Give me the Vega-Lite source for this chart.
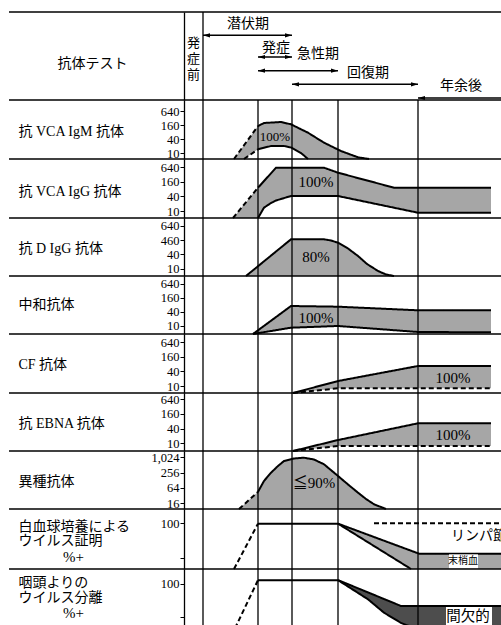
{
"$schema":"https://vega.github.io/schema/vega-lite/v6.json",
"background":"white",
"padding":{"left":8,"top":11,"right":0,"bottom":0},
"spacing":0,
"bounds":"flush",
"config":{
 "view":{"stroke":null},
 "axisY":{"domainColor":"black","domainWidth":1.3,"tickColor":"black","tickSize":4,"tickWidth":1,"labelColor":"black","labelFont":"Liberation Serif","labelFontSize":12.5,"labelPadding":1,"labelOverlap":false,"labelFlush":false,"titleColor":"black","titleFont":"Liberation Serif, Noto Sans CJK JP","titleFontSize":14,"titleFontWeight":"normal","titleAngle":0,"titleAlign":"left","titleBaseline":"middle","titleX":-166,"grid":false},
 "text":{"color":"black","font":"Liberation Serif, Noto Sans CJK JP","fontWeight":"normal"},
 "rule":{"color":"black"},
 "line":{"color":"black"},
 "point":{"color":"black"}
},
"datasets":{
 "vlines":[{"event":"感染","t":19},{"event":"発症","t":74},{"event":"急性期中","t":108},{"event":"回復期","t":154},{"event":"年余後","t":234}],
 "phases":[
  {"phase":"潜伏期","lane":0,"start":19,"end":108},
  {"phase":"発症","lane":1,"start":74,"end":108},
  {"phase":"急性期","lane":2,"start":74,"end":154},
  {"phase":"回復期","lane":3,"start":108,"end":234},
  {"phase":"年余後","lane":4,"start":234,"end":318}
 ],
 "areas":[
  {"panel":"p1","t":50,"lo":5.71,"hi":5.71},{"panel":"p1","t":60,"lo":5.71,"hi":22.1},{"panel":"p1","t":74,"lo":14.8,"hi":146},{"panel":"p1","t":80,"lo":17.2,"hi":197},{"panel":"p1","t":87,"lo":20.5,"hi":205},{"panel":"p1","t":97,"lo":20.5,"hi":217},{"panel":"p1","t":100,"lo":20.5,"hi":202},{"panel":"p1","t":107,"lo":17.7,"hi":173},{"panel":"p1","t":117,"lo":10.3,"hi":106},{"panel":"p1","t":124,"lo":5.71,"hi":75.8},{"panel":"p1","t":140,"lo":5.71,"hi":28.4},{"panel":"p1","t":157,"lo":5.71,"hi":12.5},{"panel":"p1","t":174,"lo":5.71,"hi":6.75},{"panel":"p1","t":185,"lo":5.71,"hi":5.71},
  {"panel":"p2","t":49,"lo":5.16,"hi":5.16},{"panel":"p2","t":74,"lo":5.16,"hi":90.6},{"panel":"p2","t":80,"lo":13.7,"hi":170.6},{"panel":"p2","t":87,"lo":21.3,"hi":353},{"panel":"p2","t":92,"lo":27,"hi":600},{"panel":"p2","t":107,"lo":41.3,"hi":600},{"panel":"p2","t":140,"lo":41.3,"hi":600},{"panel":"p2","t":154,"lo":41.3,"hi":374},{"panel":"p2","t":210,"lo":13.5,"hi":90.6},{"panel":"p2","t":234,"lo":8.5,"hi":90.6},{"panel":"p2","t":307,"lo":8.5,"hi":90.6},
  {"panel":"p3","t":62,"lo":4.91,"hi":4.91},{"panel":"p3","t":107,"lo":4.91,"hi":175},{"panel":"p3","t":140,"lo":4.91,"hi":175},{"panel":"p3","t":147,"lo":4.91,"hi":156},{"panel":"p3","t":154,"lo":4.91,"hi":125.7},{"panel":"p3","t":164,"lo":4.91,"hi":71.4},{"panel":"p3","t":174,"lo":4.91,"hi":34.4},{"panel":"p3","t":183,"lo":4.91,"hi":15.8},{"panel":"p3","t":194,"lo":4.91,"hi":8},{"panel":"p3","t":202,"lo":4.91,"hi":5.69},{"panel":"p3","t":210,"lo":4.91,"hi":4.91},
  {"panel":"p4","t":69,"lo":4.55,"hi":4.55},{"panel":"p4","t":107,"lo":8.46,"hi":71.4},{"panel":"p4","t":154,"lo":10,"hi":66.7},{"panel":"p4","t":234,"lo":5.54,"hi":46.8},{"panel":"p4","t":307,"lo":5.38,"hi":46.8},
  {"panel":"p5","t":109,"lo":5.16,"hi":5.16},{"panel":"p5","t":154,"lo":8.04,"hi":16},{"panel":"p5","t":234,"lo":8.04,"hi":66.3},{"panel":"p5","t":307,"lo":8.04,"hi":66.3},
  {"panel":"p6","t":109,"lo":4.85,"hi":4.85},{"panel":"p6","t":154,"lo":7.76,"hi":13.6},{"panel":"p6","t":234,"lo":7.76,"hi":65.4},{"panel":"p6","t":307,"lo":7.76,"hi":65.4},
  {"panel":"p7","t":55,"lo":9.5,"hi":9.5},{"panel":"p7","t":74,"lo":9.5,"hi":45},{"panel":"p7","t":80,"lo":9.5,"hi":120.7},{"panel":"p7","t":87,"lo":9.5,"hi":256},{"panel":"p7","t":94,"lo":9.5,"hi":470},{"panel":"p7","t":100,"lo":9.5,"hi":739},{"panel":"p7","t":110,"lo":9.5,"hi":927},{"panel":"p7","t":120,"lo":9.5,"hi":996},{"panel":"p7","t":130,"lo":9.5,"hi":846},{"panel":"p7","t":140,"lo":9.5,"hi":548},{"panel":"p7","t":154,"lo":9.5,"hi":190},{"panel":"p7","t":164,"lo":9.5,"hi":88},{"panel":"p7","t":174,"lo":9.5,"hi":41.8},{"panel":"p7","t":182,"lo":9.5,"hi":23.6},{"panel":"p7","t":190,"lo":9.5,"hi":14.6},{"panel":"p7","t":202,"lo":9.5,"hi":9.5},
  {"panel":"p8","t":154,"lo":99,"hi":99},{"panel":"p8","t":227,"lo":0,"hi":40.2},{"panel":"p8","t":235,"lo":0,"hi":33.5},{"panel":"p8","t":318,"lo":0,"hi":33.5},
  {"panel":"p9","t":154,"lo":108,"hi":108},{"panel":"p9","t":177,"lo":75,"hi":87},{"panel":"p9","t":184,"lo":65,"hi":80.5},{"panel":"p9","t":200,"lo":35,"hi":65.7},{"panel":"p9","t":217,"lo":12,"hi":50},{"panel":"p9","t":227,"lo":3,"hi":50},{"panel":"p9","t":231,"lo":0,"hi":50},{"panel":"p9","t":318,"lo":0,"hi":50}
 ],
 "edges":[
  {"panel":"p1","seg":"ud","dash":"dashed","t":50,"v":5.71},{"panel":"p1","seg":"ud","dash":"dashed","t":74,"v":146},
  {"panel":"p1","seg":"u","dash":"solid","t":74,"v":146},{"panel":"p1","seg":"u","dash":"solid","t":80,"v":197},{"panel":"p1","seg":"u","dash":"solid","t":87,"v":205},{"panel":"p1","seg":"u","dash":"solid","t":97,"v":217},{"panel":"p1","seg":"u","dash":"solid","t":100,"v":202},{"panel":"p1","seg":"u","dash":"solid","t":107,"v":173},{"panel":"p1","seg":"u","dash":"solid","t":117,"v":106},{"panel":"p1","seg":"u","dash":"solid","t":124,"v":75.8},{"panel":"p1","seg":"u","dash":"solid","t":140,"v":28.4},{"panel":"p1","seg":"u","dash":"solid","t":157,"v":12.5},{"panel":"p1","seg":"u","dash":"solid","t":174,"v":6.75},{"panel":"p1","seg":"u","dash":"solid","t":185,"v":5.71},
  {"panel":"p1","seg":"ld","dash":"dashed","t":60,"v":5.71},{"panel":"p1","seg":"ld","dash":"dashed","t":74,"v":14.8},
  {"panel":"p1","seg":"l","dash":"solid","t":74,"v":14.8},{"panel":"p1","seg":"l","dash":"solid","t":80,"v":17.2},{"panel":"p1","seg":"l","dash":"solid","t":87,"v":20.5},{"panel":"p1","seg":"l","dash":"solid","t":100,"v":20.5},{"panel":"p1","seg":"l","dash":"solid","t":107,"v":17.7},{"panel":"p1","seg":"l","dash":"solid","t":117,"v":10.3},{"panel":"p1","seg":"l","dash":"solid","t":124,"v":5.71},
  {"panel":"p2","seg":"ud","dash":"dashed","t":49,"v":5.16},{"panel":"p2","seg":"ud","dash":"dashed","t":74,"v":90.6},
  {"panel":"p2","seg":"u","dash":"solid","t":74,"v":90.6},{"panel":"p2","seg":"u","dash":"solid","t":92,"v":600},{"panel":"p2","seg":"u","dash":"solid","t":140,"v":600},{"panel":"p2","seg":"u","dash":"solid","t":154,"v":374},{"panel":"p2","seg":"u","dash":"solid","t":210,"v":90.6},{"panel":"p2","seg":"u","dash":"solid","t":307,"v":90.6},
  {"panel":"p2","seg":"l","dash":"solid","t":74,"v":5.16},{"panel":"p2","seg":"l","dash":"solid","t":80,"v":13.7},{"panel":"p2","seg":"l","dash":"solid","t":87,"v":21.3},{"panel":"p2","seg":"l","dash":"solid","t":92,"v":27},{"panel":"p2","seg":"l","dash":"solid","t":107,"v":41.3},{"panel":"p2","seg":"l","dash":"solid","t":154,"v":41.3},{"panel":"p2","seg":"l","dash":"solid","t":234,"v":8.5},{"panel":"p2","seg":"l","dash":"solid","t":307,"v":8.5},
  {"panel":"p3","seg":"u","dash":"solid","t":62,"v":4.91},{"panel":"p3","seg":"u","dash":"solid","t":107,"v":175},{"panel":"p3","seg":"u","dash":"solid","t":140,"v":175},{"panel":"p3","seg":"u","dash":"solid","t":147,"v":156},{"panel":"p3","seg":"u","dash":"solid","t":154,"v":125.7},{"panel":"p3","seg":"u","dash":"solid","t":164,"v":71.4},{"panel":"p3","seg":"u","dash":"solid","t":174,"v":34.4},{"panel":"p3","seg":"u","dash":"solid","t":183,"v":15.8},{"panel":"p3","seg":"u","dash":"solid","t":194,"v":8},{"panel":"p3","seg":"u","dash":"solid","t":202,"v":5.69},{"panel":"p3","seg":"u","dash":"solid","t":210,"v":4.91},
  {"panel":"p4","seg":"u","dash":"solid","t":69,"v":4.55},{"panel":"p4","seg":"u","dash":"solid","t":107,"v":71.4},{"panel":"p4","seg":"u","dash":"solid","t":154,"v":66.7},{"panel":"p4","seg":"u","dash":"solid","t":234,"v":46.8},{"panel":"p4","seg":"u","dash":"solid","t":307,"v":46.8},
  {"panel":"p4","seg":"l","dash":"solid","t":69,"v":4.55},{"panel":"p4","seg":"l","dash":"solid","t":107,"v":8.46},{"panel":"p4","seg":"l","dash":"solid","t":154,"v":10},{"panel":"p4","seg":"l","dash":"solid","t":234,"v":5.54},{"panel":"p4","seg":"l","dash":"solid","t":307,"v":5.38},
  {"panel":"p5","seg":"u","dash":"solid","t":109,"v":5.16},{"panel":"p5","seg":"u","dash":"solid","t":154,"v":16},{"panel":"p5","seg":"u","dash":"solid","t":234,"v":66.3},{"panel":"p5","seg":"u","dash":"solid","t":307,"v":66.3},
  {"panel":"p5","seg":"l","dash":"dashed","t":109,"v":5.16},{"panel":"p5","seg":"l","dash":"dashed","t":154,"v":8.04},{"panel":"p5","seg":"l","dash":"dashed","t":307,"v":8.04},
  {"panel":"p6","seg":"u","dash":"solid","t":109,"v":4.85},{"panel":"p6","seg":"u","dash":"solid","t":154,"v":13.6},{"panel":"p6","seg":"u","dash":"solid","t":234,"v":65.4},{"panel":"p6","seg":"u","dash":"solid","t":307,"v":65.4},
  {"panel":"p6","seg":"l","dash":"dashed","t":109,"v":4.85},{"panel":"p6","seg":"l","dash":"dashed","t":154,"v":7.76},{"panel":"p6","seg":"l","dash":"dashed","t":307,"v":7.76},
  {"panel":"p7","seg":"ud","dash":"dashed","t":55,"v":9.5},{"panel":"p7","seg":"ud","dash":"dashed","t":74,"v":45},
  {"panel":"p7","seg":"u","dash":"solid","t":74,"v":45},{"panel":"p7","seg":"u","dash":"solid","t":80,"v":120.7},{"panel":"p7","seg":"u","dash":"solid","t":87,"v":256},{"panel":"p7","seg":"u","dash":"solid","t":94,"v":470},{"panel":"p7","seg":"u","dash":"solid","t":100,"v":739},{"panel":"p7","seg":"u","dash":"solid","t":110,"v":927},{"panel":"p7","seg":"u","dash":"solid","t":120,"v":996},{"panel":"p7","seg":"u","dash":"solid","t":130,"v":846},{"panel":"p7","seg":"u","dash":"solid","t":140,"v":548},{"panel":"p7","seg":"u","dash":"solid","t":154,"v":190},{"panel":"p7","seg":"u","dash":"solid","t":164,"v":88},{"panel":"p7","seg":"u","dash":"solid","t":174,"v":41.8},{"panel":"p7","seg":"u","dash":"solid","t":182,"v":23.6},{"panel":"p7","seg":"u","dash":"solid","t":190,"v":14.6},{"panel":"p7","seg":"u","dash":"solid","t":202,"v":9.5},
  {"panel":"p8","seg":"rise","dash":"dashed","t":50,"v":0},{"panel":"p8","seg":"rise","dash":"dashed","t":74,"v":99},
  {"panel":"p8","seg":"top","dash":"solid","t":74,"v":99},{"panel":"p8","seg":"top","dash":"solid","t":154,"v":99},{"panel":"p8","seg":"top","dash":"solid","t":235,"v":33.5},{"panel":"p8","seg":"top","dash":"solid","t":318,"v":33.5},
  {"panel":"p8","seg":"low","dash":"solid","t":154,"v":99},{"panel":"p8","seg":"low","dash":"solid","t":227,"v":0},
  {"panel":"p8","seg":"lymph","dash":"dashed","t":190,"v":100},{"panel":"p8","seg":"lymph","dash":"dashed","t":318,"v":100},
  {"panel":"p9","seg":"rise","dash":"dashed","t":51,"v":0},{"panel":"p9","seg":"rise","dash":"dashed","t":74,"v":108},
  {"panel":"p9","seg":"top","dash":"solid","t":74,"v":108},{"panel":"p9","seg":"top","dash":"solid","t":154,"v":108},{"panel":"p9","seg":"top","dash":"solid","t":177,"v":87},{"panel":"p9","seg":"top","dash":"solid","t":217,"v":50},{"panel":"p9","seg":"top","dash":"solid","t":318,"v":50},
  {"panel":"p9","seg":"low","dash":"solid","t":154,"v":108},{"panel":"p9","seg":"low","dash":"solid","t":184,"v":65},{"panel":"p9","seg":"low","dash":"solid","t":200,"v":35},{"panel":"p9","seg":"low","dash":"solid","t":217,"v":12},{"panel":"p9","seg":"low","dash":"solid","t":227,"v":3},{"panel":"p9","seg":"low","dash":"solid","t":231,"v":0}
 ]
},
"vconcat":[
 {"width":318,"height":88,"data":{"values":[{}]},
  "layer":[
   {"data":{"name":"vlines"},"transform":[{"filter":"datum.t == 19"}],"mark":{"type":"rule","strokeWidth":1.3},"encoding":{"x":{"field":"t","type":"quantitative","scale":{"domain":[0,318],"nice":false,"zero":false},"axis":null}}},
   {"data":{"name":"phases"},"transform":[{"filter":"datum.lane > 0"}],"mark":{"type":"rule","strokeWidth":1.5},"encoding":{"x":{"field":"start","type":"quantitative"},"x2":{"field":"end"},"y":{"field":"lane","type":"quantitative","scale":{"domain":[-2.292,4.146],"reverse":true,"nice":false,"zero":false},"axis":{"title":"抗体テスト","titleX":-92,"titleY":51,"titleAlign":"center","ticks":false,"labels":false}}}},
   {"data":{"name":"phases"},"transform":[{"filter":"datum.lane == 0"}],"mark":{"type":"rule","strokeWidth":1.5,"yOffset":-8},"encoding":{"x":{"field":"start","type":"quantitative"},"x2":{"field":"end"},"y":{"field":"lane","type":"quantitative"}}},
   {"data":{"name":"phases"},"transform":[{"filter":"datum.lane > 0"}],"mark":{"type":"point","shape":"M -1 0 L 1 -0.6 L 1 0.6 Z","filled":true,"size":49,"opacity":1,"xOffset":3.5},"encoding":{"x":{"field":"start","type":"quantitative"},"y":{"field":"lane","type":"quantitative"}}},
   {"data":{"name":"phases"},"transform":[{"filter":"datum.lane > 0 && datum.end < 318"}],"mark":{"type":"point","shape":"M 1 0 L -1 -0.6 L -1 0.6 Z","filled":true,"size":49,"opacity":1,"xOffset":-3.5},"encoding":{"x":{"field":"end","type":"quantitative"},"y":{"field":"lane","type":"quantitative"}}},
   {"data":{"name":"phases"},"transform":[{"filter":"datum.lane == 0"}],"mark":{"type":"point","shape":"M -1 0 L 1 -0.6 L 1 0.6 Z","filled":true,"size":49,"opacity":1,"xOffset":3.5,"yOffset":-8},"encoding":{"x":{"field":"start","type":"quantitative"},"y":{"field":"lane","type":"quantitative"}}},
   {"data":{"name":"phases"},"transform":[{"filter":"datum.lane == 0"}],"mark":{"type":"point","shape":"M 1 0 L -1 -0.6 L -1 0.6 Z","filled":true,"size":49,"opacity":1,"xOffset":-3.5,"yOffset":-8},"encoding":{"x":{"field":"end","type":"quantitative"},"y":{"field":"lane","type":"quantitative"}}},
   {"mark":{"type":"rule","strokeWidth":1.5},"encoding":{"x":{"datum":-175},"x2":{"datum":318},"y":{"datum":-2.292}}},
   {"mark":{"type":"text","text":"潜伏期","fontSize":14},"encoding":{"x":{"datum":64},"y":{"datum":-1.414}}},
   {"mark":{"type":"text","text":"発症","fontSize":14},"encoding":{"x":{"datum":92},"y":{"datum":0.342}}},
   {"mark":{"type":"text","text":"急性期","fontSize":14},"encoding":{"x":{"datum":134},"y":{"datum":0.78}}},
   {"mark":{"type":"text","text":"回復期","fontSize":14},"encoding":{"x":{"datum":184},"y":{"datum":2.17}}},
   {"mark":{"type":"text","text":"年余後","fontSize":14},"encoding":{"x":{"datum":277},"y":{"datum":3.121}}},
   {"mark":{"type":"text","text":["発","症","前"],"fontSize":13,"lineHeight":16,"baseline":"top"},"encoding":{"x":{"datum":9.5},"y":{"datum":-0.427}}}
  ]},
 {"width":318,"height":59,"data":{"values":[{}]},
  "layer":[
   {"data":{"name":"areas"},"transform":[{"filter":"datum.panel == 'p1'"}],"mark":{"type":"area","fill":"#a6a6a6"},"encoding":{"x":{"field":"t","type":"quantitative","scale":{"domain":[0,318],"nice":false,"zero":false},"axis":null},"y":{"field":"lo","type":"quantitative","scale":{"type":"log","base":2,"domain":[5.71,1888],"nice":false},"axis":{"values":[10,40,160,640],"format":",d","title":"抗 VCA IgM 抗体","titleY":31}},"y2":{"field":"hi"}}},
   {"data":{"name":"vlines"},"mark":{"type":"rule","strokeWidth":1.3},"encoding":{"x":{"field":"t","type":"quantitative"}}},
   {"mark":{"type":"rule","strokeWidth":1.5},"encoding":{"x":{"datum":-175},"x2":{"datum":318},"y":{"datum":1888}}},
   {"data":{"name":"edges"},"transform":[{"filter":"datum.panel == 'p1'"}],"mark":{"type":"line","strokeWidth":2},"encoding":{"x":{"field":"t","type":"quantitative"},"y":{"field":"v","type":"quantitative"},"detail":{"field":"seg"},"strokeDash":{"field":"dash","type":"nominal","scale":{"domain":["solid","dashed"],"range":[[1,0],[5,3]]},"legend":null}}},
   {"mark":{"type":"text","text":"100%","fontSize":13},"encoding":{"x":{"datum":91},"y":{"datum":49.7}}}
  ]},
 {"width":318,"height":59,"data":{"values":[{}]},
  "layer":[
   {"data":{"name":"areas"},"transform":[{"filter":"datum.panel == 'p2'"}],"mark":{"type":"area","fill":"#a6a6a6"},"encoding":{"x":{"field":"t","type":"quantitative","scale":{"domain":[0,318],"nice":false,"zero":false},"axis":null},"y":{"field":"lo","type":"quantitative","scale":{"type":"log","base":2,"domain":[5.16,1366],"nice":false},"axis":{"values":[10,40,160,640],"format":",d","title":"抗 VCA IgG 抗体","titleY":32}},"y2":{"field":"hi"}}},
   {"data":{"name":"vlines"},"mark":{"type":"rule","strokeWidth":1.3},"encoding":{"x":{"field":"t","type":"quantitative"}}},
   {"mark":{"type":"rule","strokeWidth":1.5},"encoding":{"x":{"datum":-175},"x2":{"datum":318},"y":{"datum":1366}}},
   {"data":{"name":"edges"},"transform":[{"filter":"datum.panel == 'p2'"}],"mark":{"type":"line","strokeWidth":2},"encoding":{"x":{"field":"t","type":"quantitative"},"y":{"field":"v","type":"quantitative"},"detail":{"field":"seg"},"strokeDash":{"field":"dash","type":"nominal","scale":{"domain":["solid","dashed"],"range":[[1,0],[5,3]]},"legend":null}}},
   {"mark":{"type":"text","text":"100%","fontSize":15},"encoding":{"x":{"datum":132},"y":{"datum":155}}}
  ]},
 {"width":318,"height":58,"data":{"values":[{}]},
  "layer":[
   {"data":{"name":"areas"},"transform":[{"filter":"datum.panel == 'p3'"}],"mark":{"type":"area","fill":"#a6a6a6"},"encoding":{"x":{"field":"t","type":"quantitative","scale":{"domain":[0,318],"nice":false,"zero":false},"axis":null},"y":{"field":"lo","type":"quantitative","scale":{"type":"log","base":2,"domain":[4.91,1391],"nice":false},"axis":{"values":[10,40,160,640],"format":",d","labelExpr":"datum.value == 160 ? '460' : datum.label","title":"抗 D IgG 抗体","titleY":30}},"y2":{"field":"hi"}}},
   {"data":{"name":"vlines"},"mark":{"type":"rule","strokeWidth":1.3},"encoding":{"x":{"field":"t","type":"quantitative"}}},
   {"mark":{"type":"rule","strokeWidth":1.5},"encoding":{"x":{"datum":-175},"x2":{"datum":318},"y":{"datum":1391}}},
   {"data":{"name":"edges"},"transform":[{"filter":"datum.panel == 'p3'"}],"mark":{"type":"line","strokeWidth":2},"encoding":{"x":{"field":"t","type":"quantitative"},"y":{"field":"v","type":"quantitative"},"detail":{"field":"seg"},"strokeDash":{"field":"dash","type":"nominal","scale":{"domain":["solid","dashed"],"range":[[1,0],[5,3]]},"legend":null}}},
   {"mark":{"type":"text","text":"80%","fontSize":15},"encoding":{"x":{"datum":132},"y":{"datum":31.2}}}
  ]},
 {"width":318,"height":58,"data":{"values":[{}]},
  "layer":[
   {"data":{"name":"areas"},"transform":[{"filter":"datum.panel == 'p4'"}],"mark":{"type":"area","fill":"#a6a6a6"},"encoding":{"x":{"field":"t","type":"quantitative","scale":{"domain":[0,318],"nice":false,"zero":false},"axis":null},"y":{"field":"lo","type":"quantitative","scale":{"type":"log","base":2,"domain":[4.55,1364],"nice":false},"axis":{"values":[10,40,160,640],"format":",d","title":"中和抗体","titleY":28}},"y2":{"field":"hi"}}},
   {"data":{"name":"vlines"},"mark":{"type":"rule","strokeWidth":1.3},"encoding":{"x":{"field":"t","type":"quantitative"}}},
   {"mark":{"type":"rule","strokeWidth":1.5},"encoding":{"x":{"datum":-175},"x2":{"datum":318},"y":{"datum":1364}}},
   {"data":{"name":"edges"},"transform":[{"filter":"datum.panel == 'p4'"}],"mark":{"type":"line","strokeWidth":2},"encoding":{"x":{"field":"t","type":"quantitative"},"y":{"field":"v","type":"quantitative"},"detail":{"field":"seg"},"strokeDash":{"field":"dash","type":"nominal","scale":{"domain":["solid","dashed"],"range":[[1,0],[5,3]]},"legend":null}}},
   {"mark":{"type":"text","text":"100%","fontSize":15},"encoding":{"x":{"datum":132},"y":{"datum":22}}}
  ]},
 {"width":318,"height":59,"data":{"values":[{}]},
  "layer":[
   {"data":{"name":"areas"},"transform":[{"filter":"datum.panel == 'p5'"}],"mark":{"type":"area","fill":"#a6a6a6"},"encoding":{"x":{"field":"t","type":"quantitative","scale":{"domain":[0,318],"nice":false,"zero":false},"axis":null},"y":{"field":"lo","type":"quantitative","scale":{"type":"log","base":2,"domain":[5.16,1366],"nice":false},"axis":{"values":[10,40,160,640],"format":",d","title":"CF 抗体","titleY":30}},"y2":{"field":"hi"}}},
   {"data":{"name":"vlines"},"mark":{"type":"rule","strokeWidth":1.3},"encoding":{"x":{"field":"t","type":"quantitative"}}},
   {"mark":{"type":"rule","strokeWidth":1.5},"encoding":{"x":{"datum":-175},"x2":{"datum":318},"y":{"datum":1366}}},
   {"data":{"name":"edges"},"transform":[{"filter":"datum.panel == 'p5'"}],"mark":{"type":"line","strokeWidth":2},"encoding":{"x":{"field":"t","type":"quantitative"},"y":{"field":"v","type":"quantitative"},"detail":{"field":"seg"},"strokeDash":{"field":"dash","type":"nominal","scale":{"domain":["solid","dashed"],"range":[[1,0],[5,3]]},"legend":null}}},
   {"mark":{"type":"text","text":"100%","fontSize":15},"encoding":{"x":{"datum":269},"y":{"datum":21.3}}}
  ]},
 {"width":318,"height":58,"data":{"values":[{}]},
  "layer":[
   {"data":{"name":"areas"},"transform":[{"filter":"datum.panel == 'p6'"}],"mark":{"type":"area","fill":"#a6a6a6"},"encoding":{"x":{"field":"t","type":"quantitative","scale":{"domain":[0,318],"nice":false,"zero":false},"axis":null},"y":{"field":"lo","type":"quantitative","scale":{"type":"log","base":2,"domain":[4.85,1127],"nice":false},"axis":{"values":[10,40,160,640],"format":",d","title":"抗 EBNA 抗体","titleY":30}},"y2":{"field":"hi"}}},
   {"data":{"name":"vlines"},"mark":{"type":"rule","strokeWidth":1.3},"encoding":{"x":{"field":"t","type":"quantitative"}}},
   {"mark":{"type":"rule","strokeWidth":1.5},"encoding":{"x":{"datum":-175},"x2":{"datum":318},"y":{"datum":1127}}},
   {"data":{"name":"edges"},"transform":[{"filter":"datum.panel == 'p6'"}],"mark":{"type":"line","strokeWidth":2},"encoding":{"x":{"field":"t","type":"quantitative"},"y":{"field":"v","type":"quantitative"},"detail":{"field":"seg"},"strokeDash":{"field":"dash","type":"nominal","scale":{"domain":["solid","dashed"],"range":[[1,0],[5,3]]},"legend":null}}},
   {"mark":{"type":"text","text":"100%","fontSize":15},"encoding":{"x":{"datum":269},"y":{"datum":21.8}}}
  ]},
 {"width":318,"height":58,"data":{"values":[{}]},
  "layer":[
   {"data":{"name":"areas"},"transform":[{"filter":"datum.panel == 'p7'"}],"mark":{"type":"area","fill":"#a6a6a6"},"encoding":{"x":{"field":"t","type":"quantitative","scale":{"domain":[0,318],"nice":false,"zero":false},"axis":null},"y":{"field":"lo","type":"quantitative","scale":{"type":"log","base":2,"domain":[9.5,1829],"nice":false},"axis":{"values":[16,64,256,1024],"format":",d","title":"異種抗体","titleY":30}},"y2":{"field":"hi"}}},
   {"data":{"name":"vlines"},"mark":{"type":"rule","strokeWidth":1.3},"encoding":{"x":{"field":"t","type":"quantitative"}}},
   {"mark":{"type":"rule","strokeWidth":1.5},"encoding":{"x":{"datum":-175},"x2":{"datum":318},"y":{"datum":1829}}},
   {"data":{"name":"edges"},"transform":[{"filter":"datum.panel == 'p7'"}],"mark":{"type":"line","strokeWidth":2},"encoding":{"x":{"field":"t","type":"quantitative"},"y":{"field":"v","type":"quantitative"},"detail":{"field":"seg"},"strokeDash":{"field":"dash","type":"nominal","scale":{"domain":["solid","dashed"],"range":[[1,0],[5,3]]},"legend":null}}},
   {"mark":{"type":"text","text":"≦90%","fontSize":15},"encoding":{"x":{"datum":130},"y":{"datum":100.7}}}
  ]},
 {"width":318,"height":60,"data":{"values":[{}]},
  "layer":[
   {"data":{"name":"areas"},"transform":[{"filter":"datum.panel == 'p8'"}],"mark":{"type":"area","fill":"#a6a6a6"},"encoding":{"x":{"field":"t","type":"quantitative","scale":{"domain":[0,318],"nice":false,"zero":false},"axis":null},"y":{"field":"lo","type":"quantitative","scale":{"domain":[0,131],"nice":false,"zero":false},"axis":{"values":[25,50,75,100],"labelExpr":"datum.value % 50 === 0 ? datum.label : ''","title":["白血球培養による","ウイルス証明"],"titleBaseline":"top","titleLineHeight":14.5,"titleY":10}},"y2":{"field":"hi"}}},
   {"data":{"name":"vlines"},"mark":{"type":"rule","strokeWidth":1.3},"encoding":{"x":{"field":"t","type":"quantitative"}}},
   {"mark":{"type":"rule","strokeWidth":1.5},"encoding":{"x":{"datum":-175},"x2":{"datum":318},"y":{"datum":131}}},
   {"data":{"name":"edges"},"transform":[{"filter":"datum.panel == 'p8'"}],"mark":{"type":"line","strokeWidth":2},"encoding":{"x":{"field":"t","type":"quantitative"},"y":{"field":"v","type":"quantitative"},"detail":{"field":"seg"},"strokeDash":{"field":"dash","type":"nominal","scale":{"domain":["solid","dashed"],"range":[[1,0],[5,3]]},"legend":null}}},
   {"mark":{"type":"rect","fill":"white"},"encoding":{"x":{"datum":265},"x2":{"datum":294},"y":{"datum":1},"y2":{"datum":32}}},
   {"mark":{"type":"text","text":"末梢血","fontSize":10},"encoding":{"x":{"datum":279},"y":{"datum":16.7}}},
   {"mark":{"type":"text","text":"リンパ節","fontSize":14,"align":"left"},"encoding":{"x":{"datum":267},"y":{"datum":73}}},
   {"mark":{"type":"text","text":"%+","fontSize":15,"align":"left"},"encoding":{"x":{"datum":-121},"y":{"datum":27}}}
  ]},
 {"width":318,"height":60,"data":{"values":[{}]},
  "layer":[
   {"data":{"name":"areas"},"transform":[{"filter":"datum.panel == 'p9'"}],"mark":{"type":"area","fill":"#4d4d4d"},"encoding":{"x":{"field":"t","type":"quantitative","scale":{"domain":[0,318],"nice":false,"zero":false},"axis":null},"y":{"field":"lo","type":"quantitative","scale":{"domain":[-1.6,133],"nice":false,"zero":false},"axis":{"values":[25,50,75,100],"labelExpr":"datum.value % 50 === 0 ? datum.label : ''","title":["咽頭よりの","ウイルス分離"],"titleBaseline":"top","titleLineHeight":14.5,"titleY":6.5}},"y2":{"field":"hi"}}},
   {"data":{"name":"vlines"},"mark":{"type":"rule","strokeWidth":1.3},"encoding":{"x":{"field":"t","type":"quantitative"}}},
   {"mark":{"type":"rule","strokeWidth":1.5},"encoding":{"x":{"datum":-175},"x2":{"datum":318},"y":{"datum":133}}},
   {"data":{"name":"edges"},"transform":[{"filter":"datum.panel == 'p9'"}],"mark":{"type":"line","strokeWidth":2},"encoding":{"x":{"field":"t","type":"quantitative"},"y":{"field":"v","type":"quantitative"},"detail":{"field":"seg"},"strokeDash":{"field":"dash","type":"nominal","scale":{"domain":["solid","dashed"],"range":[[1,0],[5,3]]},"legend":null}}},
   {"mark":{"type":"rect","fill":"white"},"encoding":{"x":{"datum":262},"x2":{"datum":308},"y":{"datum":2},"y2":{"datum":48}}},
   {"mark":{"type":"text","text":"間欠的","fontSize":14.5},"encoding":{"x":{"datum":284},"y":{"datum":26}}},
   {"mark":{"type":"text","text":"%+","fontSize":15,"align":"left"},"encoding":{"x":{"datum":-121},"y":{"datum":35}}}
  ]}
]
}
